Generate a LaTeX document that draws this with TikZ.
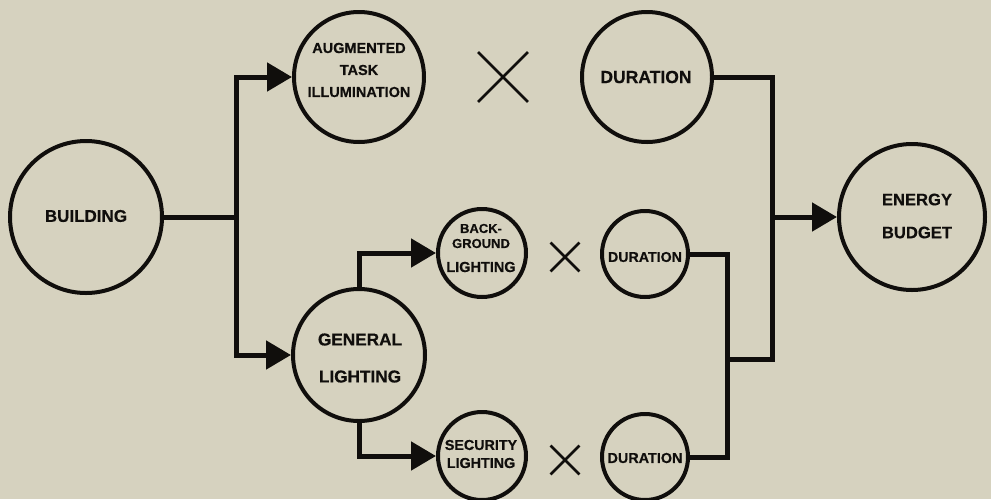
\documentclass[tikz,border=0pt]{standalone}
\usepackage{fontspec}
\setmainfont{Liberation Sans}[BoldFeatures={FakeBold=0.5}]
\usetikzlibrary{arrows.meta,shapes.misc}
\definecolor{paper}{RGB}{214,210,191}
\definecolor{ink}{RGB}{16,14,12}
\tikzset{
  circ/.style={circle, draw=ink, line width=4pt, inner sep=0pt, minimum size=#1},
  lbl/.style={align=center, inner sep=0pt, text=ink, font=\bfseries},
  conn/.style={draw=ink, line width=5pt, line join=miter},
  tip/.style={-{Triangle[length=25pt,width=28pt]}},
  xmark/.style={cross out, draw=ink, line width=2.8pt, inner sep=0pt, minimum size=#1},
}
\begin{document}
\begin{tikzpicture}[x=1pt,y=-1pt]
\fill[paper] (0,0) rectangle (991,499);
\useasboundingbox (0,0) rectangle (991,499);

% circles
\node[circ=152pt] (bld) at (86,217) {};
\node[circ=130pt] (aug) at (359,77) {};
\node[circ=130pt] (dur1) at (647,77) {};
\node[circ=146pt] (eng) at (912,217) {};
\node[circ=88pt] (bg) at (482,253) {};
\node[circ=86pt] (dur2) at (645,254) {};
\node[circ=132pt] (gen) at (359,355) {};
\node[circ=88pt] (sec) at (482,456) {};
\node[circ=86pt] (dur3) at (645,457) {};

% labels
\node[lbl, font=\bfseries\fontsize{17}{20}\selectfont] (bld-t) at (86,216) {BUILDING};
\node[lbl, font=\bfseries\fontsize{14.5}{22}\selectfont] (aug-t) at (359,70) {AUGMENTED\\TASK\\ILLUMINATION};
\node[lbl, font=\bfseries\fontsize{17.5}{20}\selectfont] (dur1-t) at (646,77) {DURATION};
\node[lbl, font=\bfseries\fontsize{16.6}{33}\selectfont] (eng-t) at (917,216) {ENERGY\\BUDGET};
\node[lbl, font=\bfseries\fontsize{13}{15}\selectfont] (bg-t) at (481,248) {BACK-\\GROUND\\[9pt]{\fontsize{14.5}{15}\selectfont LIGHTING}};
\node[lbl, font=\bfseries\fontsize{14.2}{16}\selectfont] (dur2-t) at (645,257) {DURATION};
\node[lbl, font=\bfseries\fontsize{17.2}{37}\selectfont] (gen-t) at (360,358) {GENERAL\\LIGHTING};
\node[lbl, font=\bfseries\fontsize{14.3}{18}\selectfont] (sec-t) at (481,454) {SECURITY\\LIGHTING};
\node[lbl, font=\bfseries\fontsize{14.4}{16}\selectfont] (dur3-t) at (645,458) {DURATION};

% multiplication marks
\node[xmark=47pt] (x1) at (503,77) {};
\node[xmark=26pt] (x2) at (565,257) {};
\node[xmark=26pt] (x3) at (565,460) {};

% junction points
\coordinate (t1) at (236,217);
\coordinate (t2) at (772,359);
\coordinate (t2m) at (772,217);
\coordinate (t3) at (727,359);

% connectors
\draw[conn] (bld) -- (t1);
\draw[conn, {Triangle[length=25pt,width=28pt]}-{Triangle[length=25pt,width=28pt]}] (aug) -| (t1) |- (gen);
\draw[conn, tip] (gen.north) |- (bg);
\draw[conn, tip] (gen.south) |- (sec);
\draw[conn] (dur1) -| (t2) -- (t3);
\draw[conn, tip] (t2m) -- (eng);
\draw[conn] (dur2) -| (t3) |- (dur3);
\end{tikzpicture}
\end{document}
